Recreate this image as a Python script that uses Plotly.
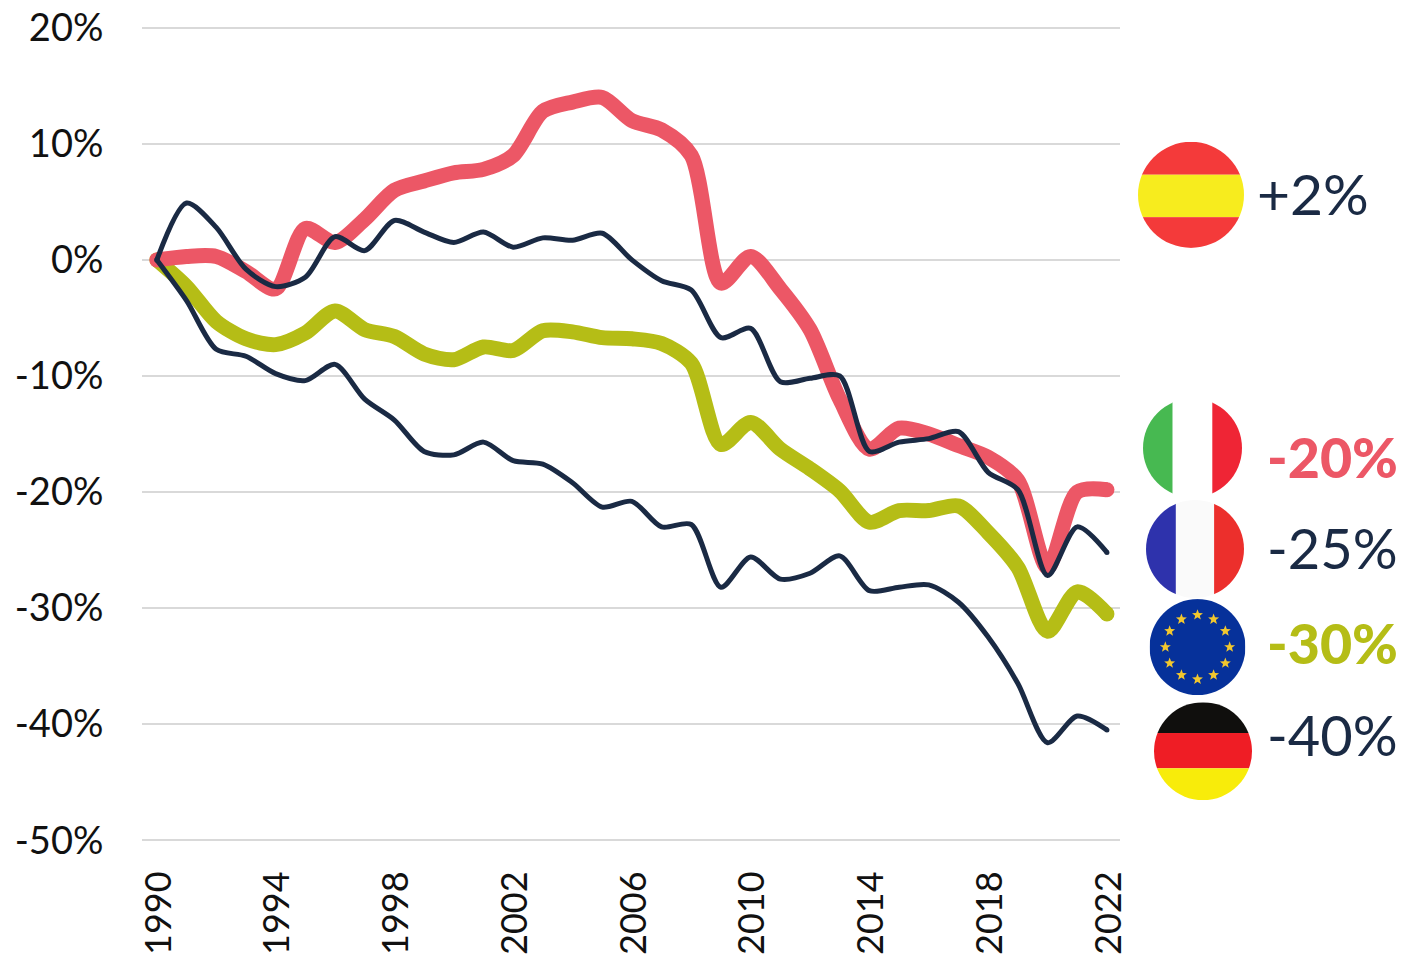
import base64, math
import plotly.graph_objects as go

years = list(range(1990, 2023))
italy = [0, 0.3, 0.3, -1, -2.5, 2.7, 1.5, 3.5, 6, 6.8, 7.5, 7.8, 9, 12.8, 13.6, 14, 12, 11.2, 9, -2, 0.3, -2.5, -6, -12, -16.3, -14.5, -15, -16, -17, -19, -26.5, -20, -19.8]
france = [0, 4.9, 2.8, -0.8, -2.3, -1.5, 2, 0.8, 3.4, 2.4, 1.5, 2.4, 1.1, 1.9, 1.7, 2.3, 0, -1.8, -2.6, -6.7, -5.9, -10.5, -10.2, -10, -16.5, -15.7, -15.4, -14.8, -18.3, -19.8, -27.2, -23, -25.2]
germany = [0, -3.5, -7.7, -8.3, -9.8, -10.4, -9, -12, -13.8, -16.5, -16.8, -15.7, -17.3, -17.6, -19.2, -21.3, -20.8, -23, -22.8, -28.2, -25.6, -27.5, -27, -25.5, -28.5, -28.2, -28, -29.5, -32.5, -36.5, -41.6, -39.3, -40.5]
eu = [0, -2.3, -5.3, -6.8, -7.3, -6.3, -4.4, -6, -6.6, -8.1, -8.6, -7.5, -7.8, -6.1, -6.2, -6.7, -6.8, -7.2, -8.9, -15.9, -14, -16.3, -18, -19.9, -22.6, -21.6, -21.6, -21.2, -23.5, -26.5, -32, -28.6, -30.5]
y_ticks = [20, 10, 0, -10, -20, -30, -40, -50]
x_ticks = years[::4]
end_labels = ["+2%", "-20%", "-25%", "-30%", "-40%"]

RED, OLIVE, DARK = "#EC5766", "#B5BD16", "#1A2A44"
W, H = 1401, 956
L, R = 142, 1120
PX_PER_UNIT = (840 - 28) / 70
T, B = 28 - 0.5 * PX_PER_UNIT, 840 + 0.5 * PX_PER_UNIT


def px(x):
    return (x - L) / (R - L)


def py(y):
    return (B - y) / (B - T)


def svg_uri(body):
    s = f'<svg xmlns="http://www.w3.org/2000/svg" viewBox="-50 -50 100 100" width="400" height="400"><defs><clipPath id="c"><circle r="50"/></clipPath></defs><g clip-path="url(#c)">{body}</g></svg>'
    return "data:image/svg+xml;base64," + base64.b64encode(s.encode()).decode()


def stripes_v(a, b, c, k=19.5):
    return (f'<rect x="-50" y="-50" width="{50-k}" height="100" fill="{a}"/>'
            f'<rect x="{-k}" y="-50" width="{2*k}" height="100" fill="{b}"/>'
            f'<rect x="{k}" y="-50" width="{50-k}" height="100" fill="{c}"/>')


def stripes_h(a, b, c, y1, y2):
    return (f'<rect x="-50" y="-50" width="100" height="{y1+50}" fill="{a}"/>'
            f'<rect x="-50" y="{y1}" width="100" height="{y2-y1}" fill="{b}"/>'
            f'<rect x="-50" y="{y2}" width="100" height="{50-y2}" fill="{c}"/>')


def star(cx, cy, r=6):
    pts = []
    for i in range(10):
        a = -math.pi / 2 + i * math.pi / 5
        rr = r if i % 2 == 0 else r * 0.42
        pts.append(f"{cx + rr*math.cos(a):.2f},{cy + rr*math.sin(a):.2f}")
    return f'<polygon points="{" ".join(pts)}" fill="#F2C72E"/>'


eu_body = '<rect x="-50" y="-50" width="100" height="100" fill="#06319A"/>' + "".join(
    star(33.5 * math.cos(i * math.pi / 6), 33.5 * math.sin(i * math.pi / 6)) for i in range(12))

flags = [
    (1191, 195, 53, stripes_h("#F43A3A", "#F7EC1E", "#F43A3A", -19, 21)),
    (1192.5, 448, 49.5, stripes_v("#47B951", "#FFFFFF", "#EF2535", 20)),
    (1195, 549, 49, stripes_v("#2E32AC", "#FAFAFA", "#EC2F2C", 19.5)),
    (1197.5, 647, 48, eu_body),
    (1203, 751, 49, stripes_h("#100F0D", "#EF1D25", "#F8EC0A", -18.5, 17.5)),
]

fig = go.Figure()
for name, vals, color, width in [("EU", eu, OLIVE, 15), ("Italy", italy, RED, 15),
                                 ("Germany", germany, DARK, 5), ("France", france, DARK, 5)]:
    caps = [width] + [0] * (len(vals) - 2) + [width]
    fig.add_trace(go.Scatter(x=years, y=vals, name=name, mode="lines+markers",
                             line=dict(color=color, width=width, shape="spline", smoothing=0.8),
                             marker=dict(color=color, size=caps, opacity=1, line=dict(width=0)),
                             showlegend=False, hoverinfo="x+y+name", cliponaxis=False))

images = [dict(source=svg_uri(b), xref="paper", yref="paper", x=px(cx - r), y=py(cy - r),
               sizex=2 * r / (R - L), sizey=2 * r / (B - T), xanchor="left", yanchor="top",
               sizing="stretch", layer="above") for cx, cy, r, b in flags]

label_pos = [(1255, 193, DARK, False, 57), (1265, 456, RED, True, 55.5), (1265, 547, DARK, False, 56),
             (1265, 642, OLIVE, True, 55.5), (1265, 734, DARK, False, 56)]
annotations = [dict(text=t, xref="paper", yref="paper", x=px(x), y=py(y),
                    xanchor="left", yanchor="middle", showarrow=False,
                    font=dict(family="Lato", size=s, color=c, weight=900 if bold else 400))
               for t, (x, y, c, bold, s) in zip(end_labels, label_pos)]

fig.update_layout(
    template="none",
    width=W, height=H, autosize=False, paper_bgcolor="white", plot_bgcolor="white",
    margin=dict(l=L, r=W - R, t=T, b=H - B, pad=0), showlegend=False,
    images=images, annotations=annotations,
    font=dict(family="Lato", size=38, color="#111111"),
    xaxis=dict(range=[1989.5, 2022.44], tickmode="array", tickvals=x_ticks, automargin=False,
               ticktext=[str(v) for v in x_ticks], tickangle=-90, showgrid=False,
               zeroline=False, showline=False, ticks="outside", ticklen=10,
               tickcolor="rgba(0,0,0,0)", tickfont=dict(size=36), ticklabelshift=2),
    yaxis=dict(range=[-50.5, 20.5], tickmode="array", tickvals=y_ticks, automargin=False,
               ticktext=[f"{v}%" for v in y_ticks], showgrid=True, gridcolor="#D9D9D9", gridwidth=2,
               zeroline=False, showline=False, ticks="outside", ticklen=30,
               tickcolor="rgba(0,0,0,0)"),
)
fig.write_html("out.html", post_script="document.body.style.margin='0';",
               config={"displayModeBar": False})
